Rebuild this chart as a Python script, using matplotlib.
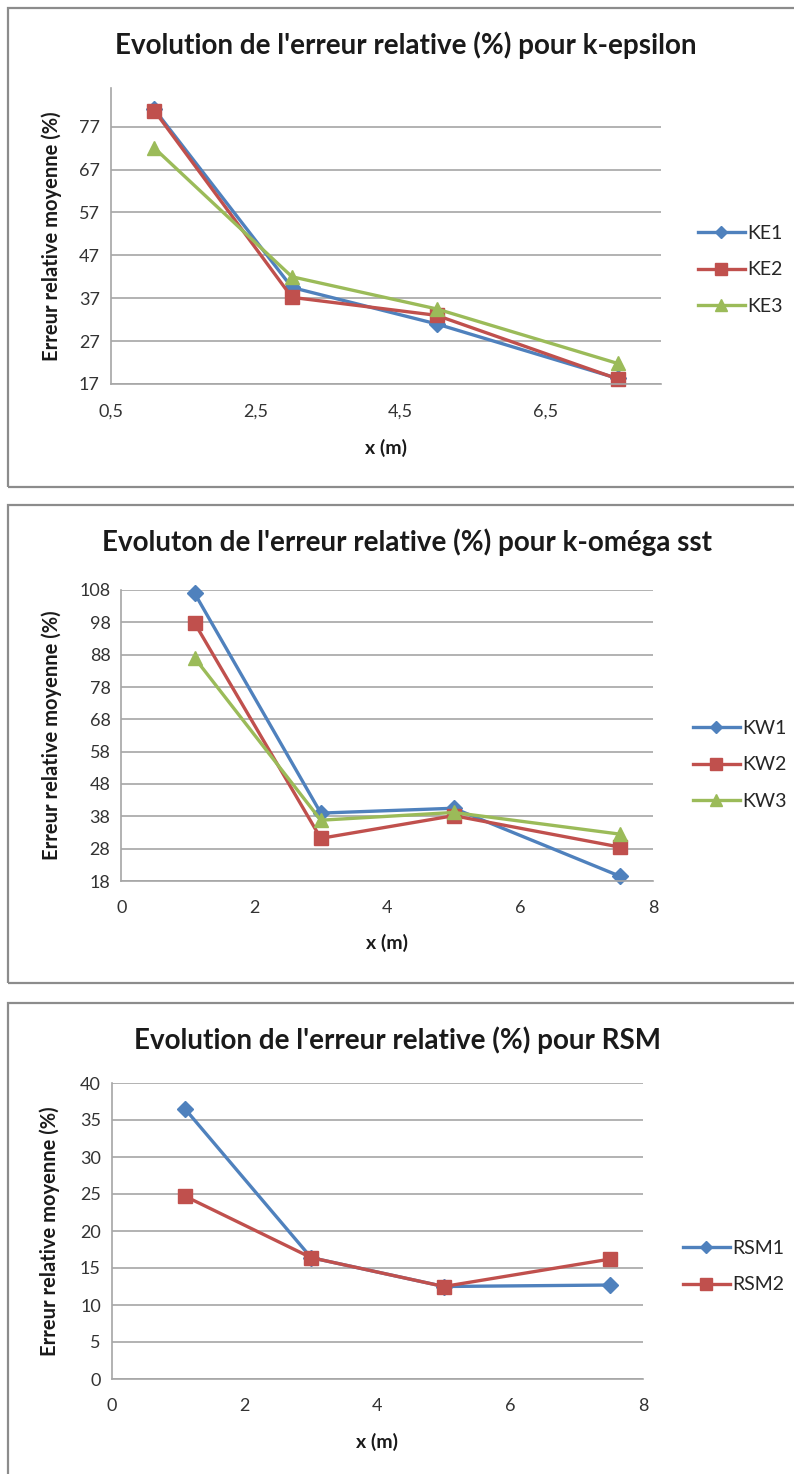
import matplotlib
matplotlib.use("Agg")
import matplotlib.pyplot as plt
from matplotlib.patches import Rectangle
from matplotlib.ticker import FuncFormatter

plt.rcParams['font.family'] = ['Lato', 'DejaVu Sans']

# data
x_pos = [1.1, 3, 5, 7.5]

ke_names = ['KE1', 'KE2', 'KE3']
ke1 = [81, 39.5, 31, 18.3]
ke2 = [80.7, 37.2, 33, 18.2]
ke3 = [72, 42, 34.5, 21.8]

kw_names = ['KW1', 'KW2', 'KW3']
kw1 = [107, 39, 40.5, 19.5]
kw2 = [97.8, 31.2, 38.2, 28.5]
kw3 = [87, 36.8, 39.2, 32.5]

rsm_names = ['RSM1', 'RSM2']
rsm1 = [36.5, 16.4, 12.5, 12.7]
rsm2 = [24.7, 16.4, 12.5, 16.2]

ke_yticks = [17, 27, 37, 47, 57, 67, 77]
ke_xticks = [0.5, 2.5, 4.5, 6.5]
kw_yticks = [18, 28, 38, 48, 58, 68, 78, 88, 98, 108]
rsm_yticks = [0, 5, 10, 15, 20, 25, 30, 35, 40]
xticks_08 = [0, 2, 4, 6, 8]

titles = ["Evolution de l'erreur relative (%) pour k-epsilon",
          "Evoluton de l'erreur relative (%) pour k-oméga sst",
          "Evolution de l'erreur relative (%) pour RSM"]

colors = ['#4F81BD', '#C0504D', '#9BBB59']
markers = ['D', 's', '^']
msizes = [8, 10, 10]

W, H = 794, 1474
fig = plt.figure(figsize=(W / 100, H / 100), dpi=100)


def fx(px):
    return px / W


def fy(py):
    return 1 - py / H


# panel frames
for top, bottom in [(8, 487), (505, 983), (1003, 1480)]:
    fig.patches.append(Rectangle((fx(8), fy(bottom)), fx(800) - fx(8), fy(top) - fy(bottom),
                                 transform=fig.transFigure, fill=False,
                                 edgecolor='#8c8c8c', linewidth=1.6))


def make_panel(box, series, names, xlim, ylim, yticks, xticks, title, title_y, xlab_y,
               ylab_x, leg_x, leg_y, comma=False):
    left, right, top, bottom = box
    ax = fig.add_axes([fx(left), fy(bottom), fx(right) - fx(left), fy(top) - fy(bottom)])
    for i, (vals, name) in enumerate(zip(series, names)):
        ax.plot(x_pos, vals, color=colors[i], marker=markers[i], markersize=msizes[i],
                linewidth=2.4, label=name, clip_on=False)
    ax.set_xlim(*xlim)
    ax.set_ylim(*ylim)
    ax.set_yticks(yticks)
    ax.set_xticks(xticks)
    if comma:
        ax.xaxis.set_major_formatter(FuncFormatter(lambda v, p: f'{v:.1f}'.replace('.', ',')))
    ax.grid(axis='y', color='#a6a6a6', linewidth=1.2)
    ax.set_axisbelow(True)
    for s in ['top', 'right']:
        ax.spines[s].set_visible(False)
    for s in ['left', 'bottom']:
        ax.spines[s].set_color('#a6a6a6')
        ax.spines[s].set_linewidth(1.2)
    ax.tick_params(axis='both', length=0, labelsize=13, colors='#333333', pad=8)
    ax.tick_params(axis='x', pad=14)
    fig.text(fx((left + right) / 2 + 20), fy(title_y), title, ha='center', va='center',
             fontsize=20, fontweight='bold', color='#1a1a1a')
    fig.text(fx((left + right) / 2), fy(xlab_y), 'x (m)', ha='center', va='center',
             fontsize=14, fontweight='bold', color='#1a1a1a')
    fig.text(fx(ylab_x), fy((top + bottom) / 2), 'Erreur relative moyenne (%)', ha='center',
             va='center', rotation=90, fontsize=14.5, fontweight='bold', color='#1a1a1a')
    leg = fig.legend(handles=ax.get_lines(), loc='upper left',
                     bbox_to_anchor=(fx(leg_x), fy(leg_y)), frameon=False, fontsize=14,
                     handlelength=2.4, handletextpad=0.15, labelspacing=1.0, borderpad=0,
                     borderaxespad=0, markerscale=0.8)
    for t in leg.get_texts():
        t.set_color('#262626')
    return ax


make_panel((111, 661, 88, 384), [ke1, ke2, ke3], ke_names, (0.5, 8.1), (17, 86),
           ke_yticks, ke_xticks, titles[0], 45, 448, 52, 698, 225, comma=True)
make_panel((121.5, 653, 590, 881), [kw1, kw2, kw3], kw_names, (0, 8), (18, 108),
           kw_yticks, xticks_08, titles[1], 542, 943, 52, 693, 720)
make_panel((112, 643, 1083, 1379), [rsm1, rsm2], rsm_names, (0, 8), (0, 40),
           rsm_yticks, xticks_08, titles[2], 1040, 1442, 50, 683, 1240)

fig.savefig('out.png', dpi=100, facecolor='white')
